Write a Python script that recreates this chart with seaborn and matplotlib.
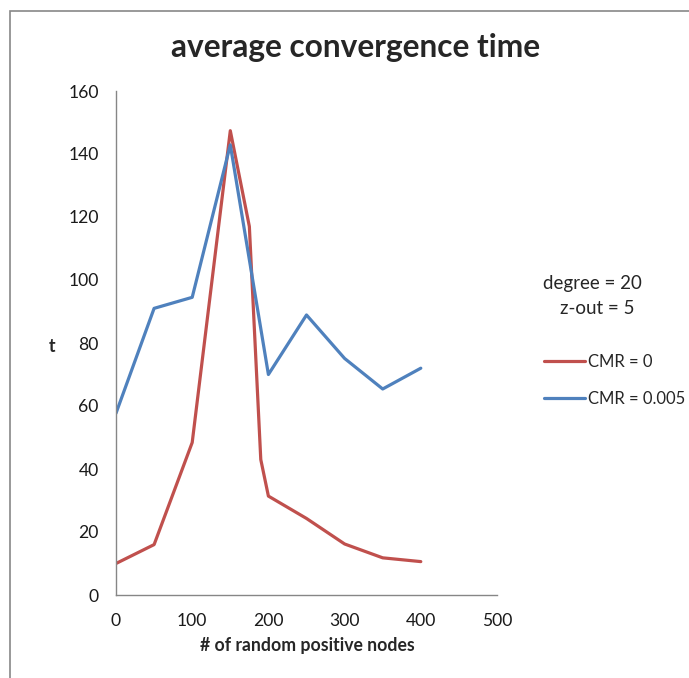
import matplotlib
matplotlib.use("Agg")
import matplotlib.pyplot as plt
import seaborn as sns
import pandas as pd
from matplotlib.patches import Rectangle

# ---- data ----
x_cmr0 = [0, 50, 100, 150, 175, 190, 200, 250, 300, 350, 400]
t_cmr0 = [10, 16, 48.4, 147.4, 117, 43, 31.4, 24.3, 16.2, 11.8, 10.6]
x_cmr005 = [0, 50, 100, 150, 200, 250, 300, 350, 400]
t_cmr005 = [57.7, 91, 94.5, 142.9, 70, 88.9, 75.1, 65.4, 72]
series_names = ["CMR = 0", "CMR = 0.005"]
x_ticks = [0, 100, 200, 300, 400, 500]
y_ticks = [0, 20, 40, 60, 80, 100, 120, 140, 160]

df = pd.concat([
    pd.DataFrame({"n": x_cmr0, "t": t_cmr0, "series": series_names[0]}),
    pd.DataFrame({"n": x_cmr005, "t": t_cmr005, "series": series_names[1]}),
], ignore_index=True)

sns.set_theme(style="white")
plt.rcParams["font.family"] = ["Lato", "DejaVu Sans"]

W, H = 689, 678
fig = plt.figure(figsize=(W / 100, H / 100), dpi=100)
ax = fig.add_axes([116 / W, 1 - 595 / H, (497 - 116) / W, (595 - 91) / H])

sns.lineplot(data=df, x="n", y="t", hue="series", sort=False,
             palette={"CMR = 0": "#C0504D", "CMR = 0.005": "#4F81BD"},
             linewidth=2.3, ax=ax, legend=True)

ax.set_xlim(0, 500)
ax.set_ylim(0, 160)
ax.set_xticks(x_ticks)
ax.set_yticks(y_ticks)
ax.tick_params(axis="both", labelsize=12.6, colors="#1a1a1a", length=5,
               width=1, direction="out")
ax.tick_params(axis="y", pad=7.5)
ax.tick_params(axis="x", pad=8)
ax.tick_params(axis="both", color="#868686")
for s in ["top", "right"]:
    ax.spines[s].set_visible(False)
for s in ["left", "bottom"]:
    ax.spines[s].set_color("#868686")
    ax.spines[s].set_linewidth(1)
ax.grid(False)
ax.set_xlabel("")
ax.set_ylabel("")
fig.text(307 / W, 1 - 646 / H, "# of random positive nodes", fontsize=12.7,
         fontweight="bold", ha="center", va="center")
fig.text(52 / W, 1 - 346 / H, "t", fontsize=12.7, fontweight="bold",
         ha="center", va="center")

fig.text(356 / W, 1 - 48 / H, "average convergence time", fontsize=22.8,
         fontweight="bold", ha="center", va="center")

fig.text(592 / W, 1 - 284 / H, "degree = 20", fontsize=13.5, ha="center", va="center")
fig.text(597 / W, 1 - 308 / H, "z-out = 5", fontsize=13.5, ha="center", va="center")

handles, labels = ax.get_legend_handles_labels()
leg = ax.legend(handles, labels, loc="upper left",
                bbox_to_anchor=(537 / W, 1 - 347 / H), bbox_transform=fig.transFigure,
                frameon=False, fontsize=12, handlelength=2.5, handletextpad=0.15,
                labelspacing=1.25, borderaxespad=0)

# outer chart frame
fig.patches.append(Rectangle((10 / W, -0.05), 1.0, 1 - 11 / H + 0.05,
                             transform=fig.transFigure, fill=False,
                             edgecolor="#878787", linewidth=1.2))

fig.savefig("out.png", dpi=100)
